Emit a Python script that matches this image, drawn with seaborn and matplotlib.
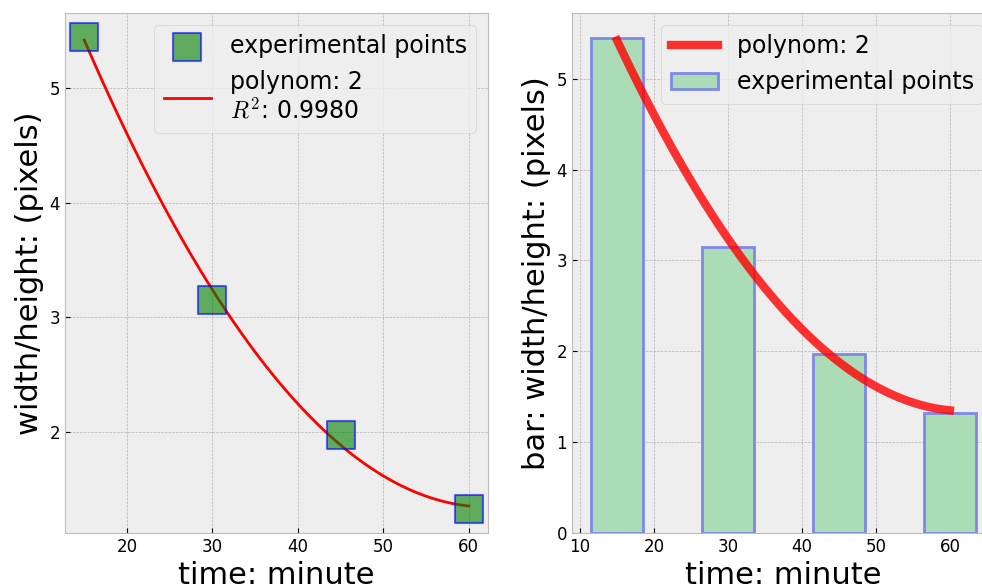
import numpy as np
import matplotlib
matplotlib.use("Agg")
import matplotlib.pyplot as plt
import seaborn as sns

# measured values
time_min = [15, 30, 45, 60]
size_px = [5.45, 3.15, 1.97, 1.32]
fit_degree = 2
r2_text = "0.9980"

plt.style.use("bmh")
plt.rcParams["xtick.direction"] = "in"
plt.rcParams["ytick.direction"] = "in"
plt.rcParams["grid.linestyle"] = "--"
plt.rcParams["font.family"] = ["DejaVu Sans"]

# quadratic fit of the measured points
coef = np.polyfit(time_min, size_px, fit_degree)
fit_x = np.linspace(min(time_min), max(time_min), 100)
fit_y = np.polyval(coef, fit_x)

fig = plt.figure(figsize=(9.82, 5.88), dpi=100)
ax1 = fig.add_axes([65 / 982, 55 / 588, 423 / 982, 520 / 588])
ax2 = fig.add_axes([572 / 982, 55 / 588, 423 / 982, 520 / 588])

# left: points + fitted curve
sns.lineplot(x=fit_x, y=fit_y, ax=ax1, color="red", linewidth=2,
             label="polynom: %d\n$R^2$: %s" % (fit_degree, r2_text))
sns.scatterplot(x=time_min, y=size_px, ax=ax1, marker="s", s=420,
                color="green", edgecolor="blue", linewidth=1.5, alpha=0.6,
                label="experimental points", zorder=3)
h, l = ax1.get_legend_handles_labels()
ax1.legend(h[::-1], l[::-1], loc="upper right", fontsize=17)
ax1.set_xlabel("time: minute", fontsize=22)
ax1.set_ylabel("width/height: (pixels)", fontsize=22)
ax1.set_xticks([20, 30, 40, 50, 60])
ax1.set_yticks([2, 3, 4, 5])
ax1.tick_params(labelsize=12)

# right: bars + fitted curve
sns.barplot(x=time_min, y=size_px, ax=ax2, native_scale=True, width=7 / 15,
            color="#aadcb6", saturation=1, edgecolor="#7f88e6", linewidth=2,
            label="experimental points", zorder=2)
sns.lineplot(x=fit_x, y=fit_y, ax=ax2, color="red", alpha=0.8, linewidth=6,
             label="polynom: %d" % fit_degree, zorder=3)
ax2.legend(loc="upper right", fontsize=17)
ax2.set_xlabel("time: minute", fontsize=22)
ax2.set_ylabel("bar: width/height: (pixels)", fontsize=22)
ax2.set_xticks([10, 20, 30, 40, 50, 60])
ax2.set_yticks([0, 1, 2, 3, 4, 5])
ax2.tick_params(labelsize=12)

fig.savefig("out.png", dpi=100, facecolor="white")
